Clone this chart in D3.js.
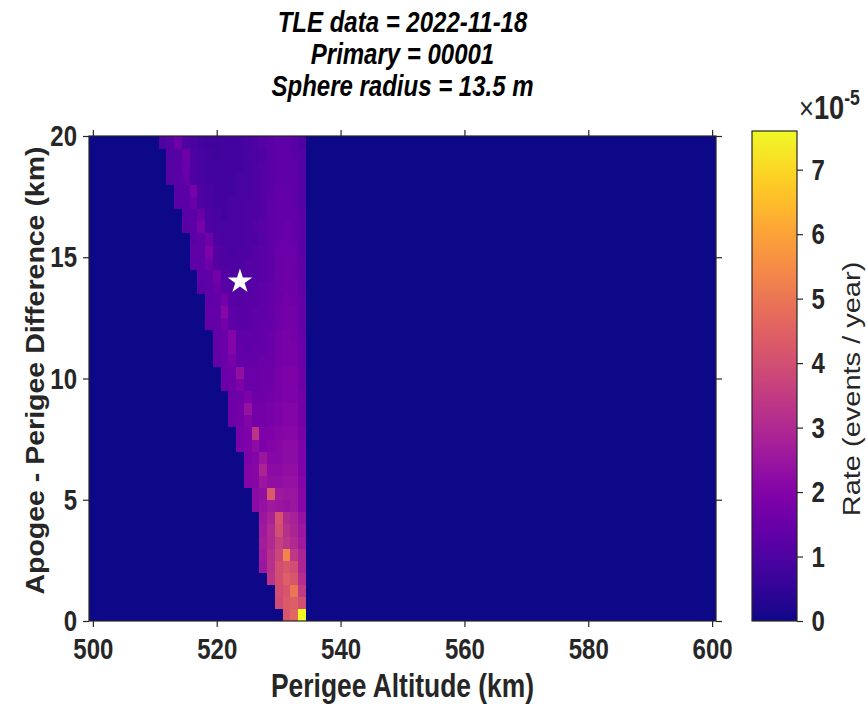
<!DOCTYPE html>
<html>
<head>
<meta charset="utf-8">
<script src="https://cdn.jsdelivr.net/npm/d3@7"></script>
<style>
  html, body { margin: 0; padding: 0; background: #ffffff; }
  svg { display: block; font-family: "Liberation Sans", Arial, sans-serif; }
</style>
</head>
<body>
<svg id="chart" width="867" height="704"></svg>
<script>
// ---------- DATA ----------
const titleLines = ["TLE data = 2022-11-18", "Primary = 00001", "Sphere radius = 13.5 m"];
const xLabel = "Perigee Altitude (km)";
const yLabel = "Apogee - Perigee Difference (km)";
const cbLabel = "Rate (events / year)";

// perigee altitude bin centres (km), bin width 1.25 km
const perigeeAlt = [500, 501.25, 502.5, 503.75, 505, 506.25, 507.5, 508.75, 510, 511.25,
  512.5, 513.75, 515, 516.25, 517.5, 518.75, 520, 521.25, 522.5, 523.75,
  525, 526.25, 527.5, 528.75, 530, 531.25, 532.5, 533.75, 535, 536.25,
  537.5, 538.75, 540, 541.25, 542.5, 543.75, 545, 546.25, 547.5, 548.75,
  550, 551.25, 552.5, 553.75, 555, 556.25, 557.5, 558.75, 560, 561.25,
  562.5, 563.75, 565, 566.25, 567.5, 568.75, 570, 571.25, 572.5, 573.75,
  575, 576.25, 577.5, 578.75, 580, 581.25, 582.5, 583.75, 585, 586.25,
  587.5, 588.75, 590, 591.25, 592.5, 593.75, 595, 596.25, 597.5, 598.75, 600];
const altBinWidth = 1.25;

// apogee - perigee difference bin lower edges (km), bin height 0.5 km
const apoDiffLow = [0, 0.5, 1, 1.5, 2, 2.5, 3, 3.5, 4, 4.5, 5, 5.5, 6, 6.5, 7, 7.5, 8, 8.5, 9, 9.5,
  10, 10.5, 11, 11.5, 12, 12.5, 13, 13.5, 14, 14.5, 15, 15.5, 16, 16.5, 17, 17.5, 18, 18.5, 19, 19.5];
const diffBinHeight = 0.5;

// index of first non-zero perigee bin for each apogee-diff row (bottom to top)
const rateStartCol = [25, 24, 24, 23, 22, 22, 22, 22, 22, 21, 21, 20, 20, 20, 19, 19, 18, 18, 18, 17,
  17, 16, 16, 16, 15, 15, 15, 14, 14, 13, 13, 13, 12, 12, 11, 11, 10, 10, 10, 9];

// non-zero rates (x 1e-5 events/year), from rateStartCol up to bin 27, per row (bottom to top)
const rateRows = [
  [4.2, 4.6, 7.6],
  [3.9, 4.3, 4.4, 4.0],
  [4.0, 4.2, 5.0, 3.5],
  [3.3, 4.0, 4.4, 4.2, 3.1],
  [2.5, 3.2, 4.0, 4.2, 4.0, 2.9],
  [2.6, 3.2, 3.8, 5.3, 3.4, 2.9],
  [2.7, 3.0, 3.6, 3.3, 3.0, 2.6],
  [2.6, 3.0, 4.0, 3.2, 2.9, 2.5],
  [2.5, 2.8, 4.1, 3.0, 2.8, 2.4],
  [2.2, 2.4, 2.6, 2.5, 2.4, 2.5, 2.1],
  [2.2, 2.3, 4.3, 2.6, 2.5, 2.5, 2.1],
  [2.0, 2.1, 2.5, 2.3, 2.3, 2.4, 2.4, 2.0],
  [2.0, 2.1, 2.9, 2.2, 2.2, 2.3, 2.3, 1.9],
  [1.9, 2.0, 2.5, 2.1, 2.1, 2.2, 2.2, 1.9],
  [1.8, 1.9, 2.2, 1.9, 2.0, 2.1, 2.2, 2.2, 1.9],
  [1.8, 1.9, 3.3, 1.9, 1.9, 2.0, 2.1, 2.1, 1.8],
  [1.6, 1.7, 2.0, 1.7, 1.7, 1.8, 1.9, 2.0, 2.0, 1.7],
  [1.6, 1.7, 2.4, 1.7, 1.7, 1.8, 1.9, 2.0, 2.0, 1.7],
  [1.6, 1.6, 1.9, 1.6, 1.6, 1.7, 1.8, 1.9, 1.9, 1.7],
  [1.5, 1.6, 1.9, 1.5, 1.5, 1.6, 1.6, 1.8, 1.9, 1.9, 1.6],
  [1.5, 1.6, 2.3, 1.5, 1.5, 1.6, 1.6, 1.8, 1.9, 1.9, 1.6],
  [1.4, 1.5, 1.8, 1.4, 1.4, 1.4, 1.5, 1.5, 1.7, 1.8, 1.8, 1.5],
  [1.4, 1.5, 2.0, 1.4, 1.3, 1.4, 1.4, 1.5, 1.7, 1.8, 1.8, 1.5],
  [1.4, 1.5, 2.0, 1.3, 1.3, 1.3, 1.4, 1.5, 1.7, 1.8, 1.7, 1.5],
  [1.4, 1.4, 1.7, 1.3, 1.2, 1.2, 1.3, 1.4, 1.4, 1.6, 1.7, 1.7, 1.4],
  [1.4, 1.4, 2.1, 1.3, 1.2, 1.2, 1.3, 1.3, 1.4, 1.6, 1.7, 1.7, 1.4],
  [1.3, 1.4, 1.7, 1.2, 1.1, 1.2, 1.2, 1.3, 1.4, 1.5, 1.7, 1.6, 1.4],
  [1.2, 1.3, 1.5, 1.2, 1.1, 1.1, 1.1, 1.2, 1.3, 1.4, 1.5, 1.6, 1.6, 1.3],
  [1.3, 1.3, 1.7, 1.1, 1.0, 1.0, 1.1, 1.1, 1.2, 1.3, 1.5, 1.6, 1.5, 1.3],
  [1.3, 1.3, 1.6, 1.1, 1.0, 1.0, 1.0, 1.1, 1.1, 1.2, 1.3, 1.5, 1.6, 1.5, 1.3],
  [1.3, 1.3, 1.9, 1.1, 1.0, 0.9, 1.0, 1.0, 1.1, 1.2, 1.3, 1.5, 1.5, 1.5, 1.2],
  [1.2, 1.3, 1.6, 1.0, 0.9, 0.9, 0.9, 1.0, 1.0, 1.1, 1.3, 1.4, 1.5, 1.4, 1.2],
  [1.2, 1.3, 1.8, 1.0, 0.9, 0.9, 0.9, 0.9, 1.0, 1.1, 1.2, 1.3, 1.4, 1.5, 1.4, 1.2],
  [1.2, 1.2, 1.5, 1.0, 0.9, 0.8, 0.9, 0.9, 1.0, 1.0, 1.1, 1.3, 1.4, 1.4, 1.4, 1.2],
  [1.2, 1.2, 1.5, 1.0, 0.9, 0.8, 0.8, 0.9, 0.9, 1.0, 1.0, 1.1, 1.3, 1.4, 1.4, 1.3, 1.1],
  [1.2, 1.2, 1.8, 1.0, 0.9, 0.8, 0.8, 0.8, 0.9, 0.9, 1.0, 1.1, 1.2, 1.4, 1.4, 1.3, 1.1],
  [1.1, 1.2, 1.4, 1.0, 0.9, 0.8, 0.8, 0.8, 0.8, 0.9, 0.9, 1.0, 1.1, 1.2, 1.3, 1.3, 1.3, 1.1],
  [1.1, 1.2, 1.5, 1.0, 0.9, 0.8, 0.8, 0.8, 0.8, 0.8, 0.9, 1.0, 1.1, 1.2, 1.3, 1.3, 1.3, 1.1],
  [1.1, 1.1, 1.6, 1.0, 0.9, 0.8, 0.7, 0.8, 0.8, 0.8, 0.9, 0.9, 1.0, 1.2, 1.3, 1.3, 1.2, 1.1],
  [1.0, 1.1, 1.6, 1.0, 0.9, 0.8, 0.7, 0.7, 0.8, 0.8, 0.8, 0.9, 1.0, 1.1, 1.2, 1.3, 1.3, 1.2, 1.0]
];
const rateMax = 7.6;           // colour limit (x 1e-5)
const rateScaleExp = -5;

const xTicks = [500, 520, 540, 560, 580, 600];
const yTicks = [0, 5, 10, 15, 20];
const cbTicks = [0, 1, 2, 3, 4, 5, 6, 7];

const primaryMarker = { alt: 523.75, diff: 14 };

// ---------- LAYOUT ----------
const svg = d3.select("#chart");
const plot = { left: 89, right: 716, top: 136, bottom: 621 };
const cb = { left: 752, right: 797, top: 131, bottom: 621 };
const axisColor = "#262626";
const tickLen = 6;
const sx = 0.8;                 // horizontal squeeze of glyphs (as in the reference)

const x = d3.scaleLinear()
  .domain([perigeeAlt[0] - altBinWidth / 2, perigeeAlt[perigeeAlt.length - 1] + altBinWidth / 2])
  .range([plot.left, plot.right]);
const y = d3.scaleLinear().domain([0, 20]).range([plot.bottom, plot.top]);
const color = d3.scaleSequential(d3.interpolatePlasma).domain([0, rateMax]);
const cbY = d3.scaleLinear().domain([0, rateMax]).range([cb.bottom, cb.top]);

// build cells
const cells = [];
apoDiffLow.forEach((lo, r) => {
  perigeeAlt.forEach((alt, c) => {
    const k = c - rateStartCol[r];
    const v = (k >= 0 && k < rateRows[r].length) ? rateRows[r][k] : 0;
    cells.push({ alt, lo, v });
  });
});

svg.append("g").selectAll("rect").data(cells).join("rect")
  .attr("x", d => x(d.alt - altBinWidth / 2))
  .attr("width", d => x(d.alt + altBinWidth / 2) - x(d.alt - altBinWidth / 2) + 0.4)
  .attr("y", d => y(d.lo + diffBinHeight))
  .attr("height", d => y(d.lo) - y(d.lo + diffBinHeight) + 0.4)
  .attr("fill", d => color(d.v))
  .attr("shape-rendering", "crispEdges");

// star marker
const star = d3.symbol().type(d3.symbolStar).size(190);
svg.append("path")
  .attr("d", star())
  .attr("transform", `translate(${x(primaryMarker.alt)},${y(primaryMarker.diff)})`)
  .attr("fill", "#ffffff");

// axes box
svg.append("rect")
  .attr("x", plot.left).attr("y", plot.top)
  .attr("width", plot.right - plot.left).attr("height", plot.bottom - plot.top)
  .attr("fill", "none").attr("stroke", axisColor).attr("stroke-width", 1.2);

const xAxisB = d3.axisBottom(x).tickValues(xTicks).tickSize(tickLen).tickPadding(11).tickFormat(d3.format("d"));
const gxb = svg.append("g").attr("transform", `translate(0,${plot.bottom})`).call(xAxisB);
const xAxisT = d3.axisTop(x).tickValues(xTicks).tickSize(tickLen).tickFormat("");
const gxt = svg.append("g").attr("transform", `translate(0,${plot.top})`).call(xAxisT);
const yAxisL = d3.axisLeft(y).tickValues(yTicks).tickSize(tickLen).tickPadding(9).tickFormat(d3.format("d"));
const gyl = svg.append("g").attr("transform", `translate(${plot.left},0)`).call(yAxisL);
const yAxisR = d3.axisRight(y).tickValues(yTicks).tickSize(tickLen).tickFormat("");
const gyr = svg.append("g").attr("transform", `translate(${plot.right},0)`).call(yAxisR);

[gxb, gxt, gyl, gyr].forEach(g => {
  g.select(".domain").remove();
  g.selectAll(".tick line").attr("stroke", axisColor).attr("stroke-width", 1.2);
  g.selectAll(".tick text")
    .attr("fill", "#262626")
    .attr("transform", `scale(${sx},1)`)
    .style("font-size", "30px").style("font-weight", "bold");
});

// colour bar
const defs = svg.append("defs");
const grad = defs.append("linearGradient").attr("id", "cbgrad")
  .attr("x1", 0).attr("y1", 1).attr("x2", 0).attr("y2", 0);
d3.range(0, 1.0001, 0.02).forEach(t => {
  grad.append("stop").attr("offset", t).attr("stop-color", d3.interpolatePlasma(t));
});
svg.append("rect")
  .attr("x", cb.left).attr("y", cb.top)
  .attr("width", cb.right - cb.left).attr("height", cb.bottom - cb.top)
  .attr("fill", "url(#cbgrad)")
  .attr("stroke", axisColor).attr("stroke-width", 1.2);
const cbAxis = d3.axisRight(cbY).tickValues(cbTicks).tickSize(tickLen).tickPadding(12).tickFormat(d3.format("d"));
const gcb = svg.append("g").attr("transform", `translate(${cb.right},0)`).call(cbAxis);
gcb.select(".domain").remove();
gcb.selectAll(".tick line").attr("stroke", axisColor).attr("stroke-width", 1.2);
gcb.selectAll(".tick text").attr("fill", "#262626")
  .attr("transform", `scale(${sx},1)`)
  .style("font-size", "30px").style("font-weight", "bold");

// exponent label
const expT = svg.append("text")
  .attr("transform", `translate(799,119) scale(${sx},1)`)
  .attr("fill", "#262626")
  .style("font-size", "32px");
expT.append("tspan").text("\u00d7");
expT.append("tspan").style("font-weight", "bold").style("font-size", "34px").text("10");
expT.append("tspan").attr("dy", -14).style("font-size", "22px").style("font-weight", "bold").text(String(rateScaleExp));

// colour bar label
svg.append("text")
  .attr("transform", `translate(860,389) scale(${sx},1) rotate(-90)`)
  .attr("text-anchor", "middle").attr("fill", "#262626")
  .style("font-size", "29px")
  .text(cbLabel);

// axis labels
svg.append("text")
  .attr("transform", `translate(${(plot.left + plot.right) / 2},697) scale(${sx},1)`)
  .attr("text-anchor", "middle").attr("fill", "#262626")
  .style("font-size", "33px").style("font-weight", "bold")
  .text(xLabel);
svg.append("text")
  .attr("transform", `translate(44,${(plot.top + plot.bottom) / 2 - 8}) scale(0.92,1) rotate(-90)`)
  .attr("text-anchor", "middle").attr("fill", "#262626")
  .style("font-size", "28.5px").style("font-weight", "bold")
  .text(yLabel);

// title
titleLines.forEach((t, i) => {
  svg.append("text")
    .attr("transform", `translate(${(plot.left + plot.right) / 2},${32 + i * 32}) scale(${sx},1)`)
    .attr("text-anchor", "middle").attr("fill", "#000000")
    .style("font-size", "30px").style("font-weight", "bold").style("font-style", "italic")
    .text(t);
});
</script>
</body>
</html>
